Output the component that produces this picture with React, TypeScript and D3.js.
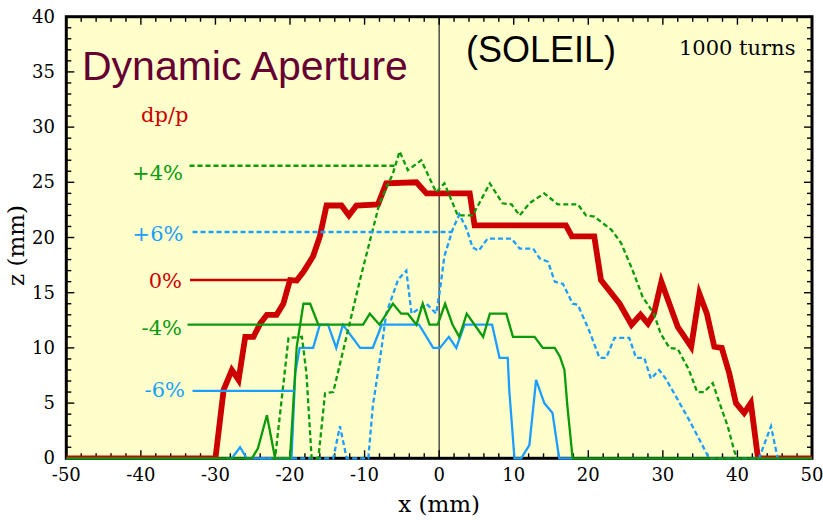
import React from "react";
import * as d3 from "d3";

const W = 823;
const H = 520;

// dp/p = 0 %
const dp0X = [-50, -30, -28.9, -27.8, -26.9, -26, -24.9, -24, -23.1, -21.8, -20.9, -20, -19.1, -18.2, -16.9, -16, -15.1, -13.1, -12.1, -11.1, -8.2, -7.1, -3.05, -1.7, 4.1, 4.75, 17.0, 17.8, 20.8, 21.7, 24.2, 25.8, 27.0, 28, 28.8, 29.8, 32.0, 33.8, 34.9, 35.9, 36.9, 37.9, 38.9, 39.8, 40.9, 41.8, 42.7, 43, 50];
const dp0Z = [0, 0, 6.2, 8.0, 7.1, 11, 11, 12.2, 13, 13, 14, 16.15, 16.1, 16.9, 18.3, 20.1, 22.9, 22.9, 22, 22.9, 23, 24.9, 25, 24, 24, 21.1, 21.1, 20.1, 20.1, 16.15, 14, 12.1, 13, 12.2, 13.1, 16, 11.9, 10.1, 14.9, 13.1, 10.1, 10, 7.7, 5, 4.1, 5, 0.3, 0, 0];

// dp/p = +4 %
const dpP4X = [-22.5, -22, -20.2, -18.4, -17.8, -17.1, -16.2, -15.3, -14.2, -10.6, -8.0, -6.2, -5.3, -4.2, -2.4, -0.4, 0.7, 2.5, 4.5, 6.8, 8.5, 9.7, 10.8, 12.1, 14.1, 15.9, 18.6, 19.7, 20.8, 23.1, 24.4, 25.9, 27.3, 28.8, 29.7, 30.9, 32.0, 33.5, 34.6, 35.5, 36.7, 37.6, 38.7, 39.6, 40];
const dpP4Z = [0, 0, 10.9, 11, 7.7, 0, 0, 5.9, 6.0, 16.2, 23.1, 25.8, 27.8, 26.1, 27.0, 24.1, 24.9, 22.0, 22.0, 24.9, 23.1, 23, 22.0, 23.1, 24.0, 23.0, 23, 22.0, 21.9, 20.7, 19.5, 17.1, 14.6, 13.1, 11.3, 10.0, 9.9, 8.0, 6.0, 6.0, 6.8, 5.0, 2.9, 0.6, 0];

// dp/p = +6 %
const dpP6X = [-24, -14.2, -13.3, -12.4, -9.5, -8.9, -7.7, -7.1, -5.5, -4.4, -3.7, -1.7, -0.4, 0.1, 0.7, 1.8, 2.7, 3.6, 4.5, 5.3, 6.5, 9.7, 10.8, 12.6, 13.5, 14.6, 15.5, 16.6, 17.9, 18.6, 20.1, 21.5, 22.4, 23.5, 25.5, 26.4, 27.5, 28.4, 29.5, 30.4, 32.0, 33.5, 34.9, 36.2, 42.9, 44.5, 45.4];
const dpP6Z = [0, 0, 2.9, 0, 0, 4.7, 10.1, 13.1, 16.2, 17.0, 13.1, 14.0, 13.1, 15.2, 18.3, 20.7, 22.1, 20.9, 19.1, 18.8, 19.9, 19.9, 19.0, 19.0, 18.1, 17.8, 16.0, 15.8, 14.0, 13.9, 11.6, 9.1, 9.1, 10.9, 10.9, 9.1, 9.1, 7.2, 8.0, 7.2, 5.3, 3.5, 1.7, 0, 0, 2.9, 0];

// dp/p = -4 %
const dpM4X = [-50, -25.1, -24.3, -23.1, -22.0, -20, -19.1, -18.2, -17.3, -16.2, -10.2, -9.3, -8.0, -6.2, -5.1, -4.2, -3.05, -2.2, -1.3, -0.2, 0.8, 1.8, 2.7, 3.7, 4.75, 5.9, 6.8, 9.0, 9.9, 12.8, 13.9, 15.5, 16.2, 16.8, 17.2, 17.9, 50];
const dpM4Z = [0, 0, 0.9, 3.9, 0, 0, 10.1, 14.0, 14.0, 12.1, 12.1, 13.1, 12.1, 14.0, 13.1, 13.1, 12.1, 14.0, 12.1, 12.1, 14.0, 12.1, 11.0, 13.1, 12.1, 11.0, 13.1, 13.1, 11.0, 11.0, 10.0, 10.0, 9.2, 8.0, 4.7, 0, 0];

// dp/p = -6 %
const dpM6X = [-28.5, -27.8, -26.7, -25.8, -19.8, -19.3, -18.7, -16.9, -16.0, -14.9, -13.8, -12.9, -10.6, -8.9, -7.7, -2.7, -0.8, 0.1, 1.3, 2.3, 3.4, 7.1, 8.1, 9.2, 9.4, 10.1, 11.0, 12.1, 13.0, 14.1, 15.2, 16.1, 18];
const dpM6Z = [0, 0, 1.0, 0, 0, 7.7, 10.0, 10.0, 12.1, 12.1, 10.0, 12.1, 10.0, 10.0, 12.1, 12.1, 10.0, 10.0, 11.0, 10.0, 12.1, 12.1, 9.1, 9.1, 6.2, 0, 0, 1.2, 7.1, 5.0, 4.1, 0, 0];

const xTickLabels = [-50, -40, -30, -20, -10, 0, 10, 20, 30, 40, 50];
const yTickLabels = [0, 5, 10, 15, 20, 25, 30, 35, 40];

// legend: label, z of the leader line, x where the leader meets its curve
const legendNames = ["+4%", "+6%", "0%", "-4%", "-6%"];
const legendLevels = [26.5, 20.5, 16.15, 12.1, 6.1];
const legendReach = [-5.9, 1.7, -20, -16.2, -19.4];

const RED = "#cc0000";
const GREEN = "#0b9a0b";
const BLUE = "#1c9eff";
const MAROON = "#660033";
const SERIF = "'DejaVu Serif', serif";
const SANS = "'Liberation Sans', Arial, sans-serif";

const zip = (xs: number[], zs: number[]) => xs.map((x, i) => [x, zs[i]] as [number, number]);

export default function App() {
  const xs = d3.scaleLinear().domain([-50, 50]).range([66.3, 812]);
  const ys = d3.scaleLinear().domain([0, 40]).range([458.3, 16.7]);
  const line = d3
    .line<[number, number]>()
    .x((d) => xs(d[0]))
    .y((d) => ys(d[1]));

  const [x0, x1] = xs.range();
  const [y0, y1] = ys.range();

  const xMinor = d3.range(-50, 50.001, 2);
  const yMinor = d3.range(0, 40.001, 1);

  const thin = [
    { pts: zip(dpM6X, dpM6Z), color: BLUE, dash: undefined },
    { pts: zip(dpP6X, dpP6Z), color: BLUE, dash: "5 3" },
    { pts: zip(dpM4X, dpM4Z), color: GREEN, dash: undefined },
    { pts: zip(dpP4X, dpP4Z), color: GREEN, dash: "5 3" },
  ];

  const legendStyle = [
    { color: GREEN, dash: "5 3", labelX: 183, startX: 189.5, dy: 14.5 },
    { color: BLUE, dash: "5 3", labelX: 183.5, startX: 192.5, dy: 9.5 },
    { color: RED, dash: undefined, labelX: 182, startX: 190, dy: 8 },
    { color: GREEN, dash: undefined, labelX: 182, startX: 187.5, dy: 10 },
    { color: BLUE, dash: undefined, labelX: 185, startX: 192.5, dy: 6 },
  ];

  return (
    <svg
      width={W}
      height={H}
      viewBox={`0 0 ${W} ${H}`}
      style={{ position: "absolute", left: 0, top: 0, background: "#fff" }}
    >
      <defs>
        <clipPath id="plotClip">
          <rect x={x0} y={y1} width={x1 - x0} height={y0 - y1} />
        </clipPath>
      </defs>

      <rect x={x0} y={y1} width={x1 - x0} height={y0 - y1} fill="#ffffcc" />

      {/* x = 0 reference line */}
      <line x1={xs(0)} x2={xs(0)} y1={y1} y2={y0} stroke="#222" strokeWidth={1.2} />

      {/* ticks on all four sides, pointing inward */}
      {xMinor.map((v) => {
        const major = Math.abs(v % 10) < 1e-9;
        const len = major ? 8 : 5;
        return (
          <g key={"xt" + v}>
            <line x1={xs(v)} x2={xs(v)} y1={y0} y2={y0 - len} stroke="#000" strokeWidth={1.4} />
            <line x1={xs(v)} x2={xs(v)} y1={y1} y2={y1 + len} stroke="#000" strokeWidth={1.4} />
          </g>
        );
      })}
      {yMinor.map((v) => {
        const major = Math.abs(v % 5) < 1e-9;
        const len = major ? 8 : 5;
        return (
          <g key={"yt" + v}>
            <line x1={x0} x2={x0 + len} y1={ys(v)} y2={ys(v)} stroke="#000" strokeWidth={1.4} />
            <line x1={x1} x2={x1 - len} y1={ys(v)} y2={ys(v)} stroke="#000" strokeWidth={1.4} />
          </g>
        );
      })}

      <rect x={x0} y={y1} width={x1 - x0} height={y0 - y1} fill="none" stroke="#000" strokeWidth={3} />

      {/* tick labels */}
      {xTickLabels.map((v) => (
        <text key={"xl" + v} x={xs(v)} y={481} textAnchor="middle" fontFamily={SERIF} fontSize={18} fill="#000">
          {v}
        </text>
      ))}
      {yTickLabels.map((v) => (
        <text key={"yl" + v} x={55} y={ys(v) + 6} textAnchor="end" fontFamily={SERIF} fontSize={18} fill="#000">
          {v}
        </text>
      ))}

      {/* axis titles */}
      <text x={xs(0)} y={512} textAnchor="middle" fontFamily={SERIF} fontSize={23} fill="#000">
        x (mm)
      </text>
      <text
        transform={`translate(24, ${(y0 + y1) / 2 + 8}) rotate(-90)`}
        textAnchor="middle"
        fontFamily={SERIF}
        fontSize={23}
        fill="#000"
      >
        z (mm)
      </text>

      {/* dp/p = 0 % aperture, heavy line */}
      <path
        d={line(zip(dp0X, dp0Z)) || ""}
        fill="none"
        stroke={RED}
        strokeWidth={5.8}
        strokeLinejoin="miter"
        clipPath="url(#plotClip)"
      />

      {thin.map((s, i) => (
        <path
          key={"s" + i}
          d={line(s.pts) || ""}
          fill="none"
          stroke={s.color}
          strokeWidth={2.3}
          strokeDasharray={s.dash}
        />
      ))}

      {/* legend with leader lines */}
      {legendNames.map((name, i) => {
        const st = legendStyle[i];
        const yy = ys(legendLevels[i]);
        return (
          <g key={"lg" + i}>
            <line
              x1={st.startX}
              x2={xs(legendReach[i])}
              y1={yy}
              y2={yy}
              stroke={st.color}
              strokeWidth={2.3}
              strokeDasharray={st.dash}
            />
            <text x={st.labelX} y={yy + st.dy} textAnchor="end" fontFamily={SERIF} fontSize={21} fill={st.color}>
              {name}
            </text>
          </g>
        );
      })}

      <text x={141} y={122} fontFamily={SERIF} fontSize={21} fill={RED}>
        dp/p
      </text>

      <text x={82} y={80} fontFamily={SANS} fontSize={41} fill={MAROON}>
        Dynamic Aperture
      </text>
      <text x={466} y={62} fontFamily={SANS} fontSize={36} fill="#000">
        (SOLEIL)
      </text>
      <text x={679} y={55} fontFamily={SERIF} fontSize={21} fill="#000">
        1000 turns
      </text>
    </svg>
  );
}
